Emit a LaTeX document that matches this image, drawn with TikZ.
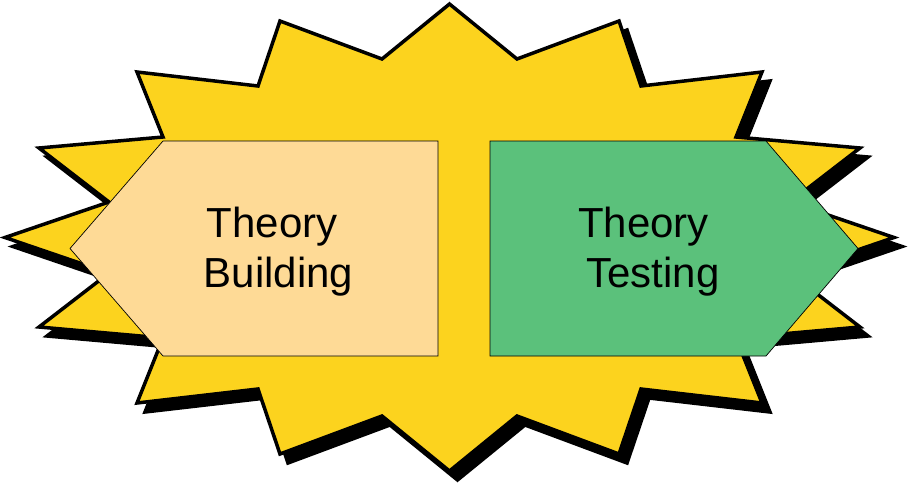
\documentclass[tikz,border=0pt]{standalone}
\usepackage{fontspec}
\setmainfont{Liberation Sans}
\definecolor{staryellow}{RGB}{252,211,30}
\definecolor{buildfill}{RGB}{254,218,150}
\definecolor{testfill}{RGB}{91,193,123}
\begin{document}
\begin{tikzpicture}[x=1pt,y=-1pt,
  starline/.style={line width=3.5pt,line join=miter,miter limit=20},
  arrowbox/.style={draw=black,line width=0.7pt,line join=miter},
  label/.style={font=\fontsize{42}{50}\selectfont,anchor=base,inner sep=0pt}]
\useasboundingbox (0,0) rectangle (908,485);
\def\starpath{(449.5,4) -- (517,59) -- (619,21) -- (641,86) -- (762,72) -- (736,137) -- (860,148) -- (790,202) -- (894,237.5)
 -- (790,273) -- (860,327) -- (736,338) -- (762,403) -- (641,389) -- (619,454) -- (517,416) -- (449.5,471)
 -- (382,416) -- (280,454) -- (258,389) -- (137,403) -- (163,338) -- (39,327) -- (109,273) -- (5,237.5)
 -- (109,202) -- (39,148) -- (163,137) -- (137,72) -- (258,86) -- (280,21) -- (382,59) -- cycle}
% shadow
\begin{scope}[shift={(8,9)}]
\filldraw[fill=black,draw=black,starline] \starpath;
\end{scope}
% star
\filldraw[fill=staryellow,draw=black,starline] \starpath;
% left pentagon
\filldraw[arrowbox,fill=buildfill] (163,141) -- (438,141) -- (438,356) -- (163,356) -- (70,248.5) -- cycle;
% right pentagon
\filldraw[arrowbox,fill=testfill] (490,141) -- (766,141) -- (858,248.5) -- (766,356) -- (490,356) -- cycle;
\node[label] (t1) at (272,237) {Theory};
\node[label] (b1) at (278.5,287) {Building};
\node[label] (t2) at (643.5,237) {Theory};
\node[label] (b2) at (653,287) {Testing};
\end{tikzpicture}
\end{document}
